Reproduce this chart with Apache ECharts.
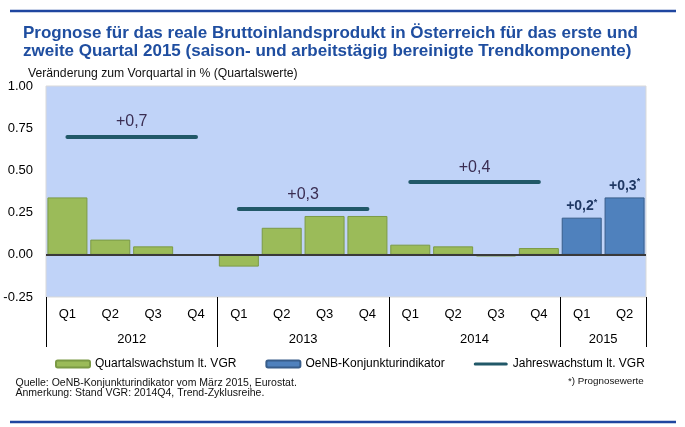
<!DOCTYPE html>
<html>
<head>
<meta charset="utf-8">
<script src="https://cdn.jsdelivr.net/npm/echarts@6/dist/echarts.min.js"></script>
<style>html,body{margin:0;padding:0;background:#fff}#c{width:685px;height:427px}</style>
</head>
<body>
<div id="c"></div>
<script>
const quarters = ['Q1','Q2','Q3','Q4','Q1','Q2','Q3','Q4','Q1','Q2','Q3','Q4','Q1','Q2'];
const years = ['2012','2013','2014','2015'];
const yearStart = [0,4,8,12];
const yearEnd = [4,8,12,14];
const quarterlyGrowth = [0.34,0.09,0.05,0.00,-0.07,0.16,0.23,0.23,0.06,0.05,-0.01,0.04,null,null];
const oenbIndicator = [null,null,null,null,null,null,null,null,null,null,null,null,0.22,0.34];
const annualGrowth = [0.70,0.27,0.43];
const annualFirstIdx = [0,4,8];
const annualLastIdx = [3,7,11];
const yTicks = [-0.25,0,0.25,0.5,0.75,1.0];

const FONT = "'Liberation Sans', Arial, sans-serif";
const fmt1 = v => '+' + v.toFixed(1).replace('.', ',');

const chart = echarts.init(document.getElementById('c'), null, {renderer:'canvas'});

const annualLines = annualGrowth.map((v,i) => [
  {coord:[annualFirstIdx[i], v], value: v},
  {coord:[annualLastIdx[i], v]}
]);

const yearBoundaries = yearStart.concat([yearEnd[yearEnd.length-1]]);
const yearCenters = yearStart.map((s,i) => (s + yearEnd[i]) / 2);

chart.setOption({
  animation:false,
  textStyle:{fontFamily:FONT},
  title:[
    {text:'Prognose für das reale Bruttoinlandsprodukt in Österreich für das erste und\nzweite Quartal 2015 (saison- und arbeitstägig bereinigte Trendkomponente)',
     left:18, top:19, textStyle:{fontFamily:FONT, fontSize:17, fontWeight:'bold', color:'#1f4ea0', lineHeight:18.5}},
    {text:'Veränderung zum Vorquartal in % (Quartalswerte)', left:23, top:63,
     textStyle:{fontFamily:FONT, fontSize:12.2, fontWeight:'normal', color:'#111'}},
    {text:'Quelle: OeNB-Konjunkturindikator vom März 2015, Eurostat.\nAnmerkung: Stand VGR: 2014Q4, Trend-Zyklusreihe.', left:10.5, top:372.5,
     textStyle:{fontFamily:FONT, fontSize:10.5, fontWeight:'normal', color:'#111', lineHeight:10.5}},
    {text:'*) Prognosewerte', left:563, top:371.5,
     textStyle:{fontFamily:FONT, fontSize:9.8, fontWeight:'normal', color:'#111'}}
  ],
  graphic:[
    {type:'line', shape:{x1:10,y1:11,x2:676,y2:11}, style:{stroke:'#1f46a0', lineWidth:2.5}, silent:true},
    {type:'line', shape:{x1:10,y1:422,x2:676,y2:422}, style:{stroke:'#1f46a0', lineWidth:2.5}, silent:true}
  ],
  legend:{
    left:50, top:353, itemWidth:34, itemHeight:7, itemGap:29,
    textStyle:{fontFamily:FONT, fontSize:12, color:'#000'},
    data:[
      {name:'Quartalswachstum lt. VGR'},
      {name:'OeNB-Konjunkturindikator'},
      {name:'Jahreswachstum lt. VGR', icon:'path://M1.5,0 L32.5,0 A1.5,1.5 0 0 1 32.5,3 L1.5,3 A1.5,1.5 0 0 1 1.5,0 Z'}
    ]
  },
  grid:{left:46, right:39, top:86, bottom:130, show:true, backgroundColor:'#c0d3f8', borderColor:'#d9d9d9', borderWidth:1},
  xAxis:[
    {type:'category', data:quarters, position:'bottom',
     axisLine:{show:false}, axisTick:{show:false},
     axisLabel:{fontFamily:FONT, fontSize:13, color:'#000', margin:11}},
    {type:'value', min:0, max:14, position:'bottom',
     axisLine:{show:false}, splitLine:{show:false},
     axisTick:{show:true, customValues:yearBoundaries, length:50, lineStyle:{color:'#000', width:1}},
     axisLabel:{customValues:yearCenters, fontFamily:FONT, fontSize:13, color:'#000', margin:36,
       formatter:v => years[yearCenters.indexOf(v)] || ''}}
  ],
  yAxis:{type:'value', min:-0.25, max:1, interval:0.25,
    axisLine:{show:false}, axisTick:{show:false}, splitLine:{show:false},
    axisLabel:{fontFamily:FONT, fontSize:13, color:'#000', margin:13, formatter:v => v.toFixed(2)}},
  series:[
    {name:'Quartalswachstum lt. VGR', type:'bar', data:quarterlyGrowth, barWidth:40, barGap:'-100%',
     itemStyle:{color:'#9bbb59', borderColor:'#7b9a45', borderWidth:1},
     markLine:{silent:true, symbol:'none', z:10, label:{show:false},
       lineStyle:{color:'#3a3a3a', width:2, type:'solid'}, data:[{yAxis:0}]}},
    {name:'OeNB-Konjunkturindikator', type:'bar', data:oenbIndicator, barWidth:40, barGap:'-100%',
     itemStyle:{color:'#4f81bd', borderColor:'#385d8a', borderWidth:1},
     label:{show:true, position:'top', distance:3, formatter:p => fmt1(p.value) + '{s|*}',
       fontFamily:FONT, fontSize:14, fontWeight:'bold', color:'#1f3864',
       rich:{s:{fontSize:9, fontWeight:'bold', color:'#1f3864', verticalAlign:'top', padding:[0,0,8,0]}}}},
    {name:'Jahreswachstum lt. VGR', type:'line', data:quarters.map(()=>null), color:'#215868',
     lineStyle:{color:'#215868', width:3.5}, showSymbol:false,
     markLine:{silent:true, symbol:'none', z:6,
       lineStyle:{color:'#215868', width:4, type:'solid', cap:'round'},
       label:{show:true, position:'middle', distance:7, formatter:p => fmt1(p.value),
         fontFamily:FONT, fontSize:16, color:'#3a2d52'},
       data:annualLines}}
  ]
});
</script>
</body>
</html>
